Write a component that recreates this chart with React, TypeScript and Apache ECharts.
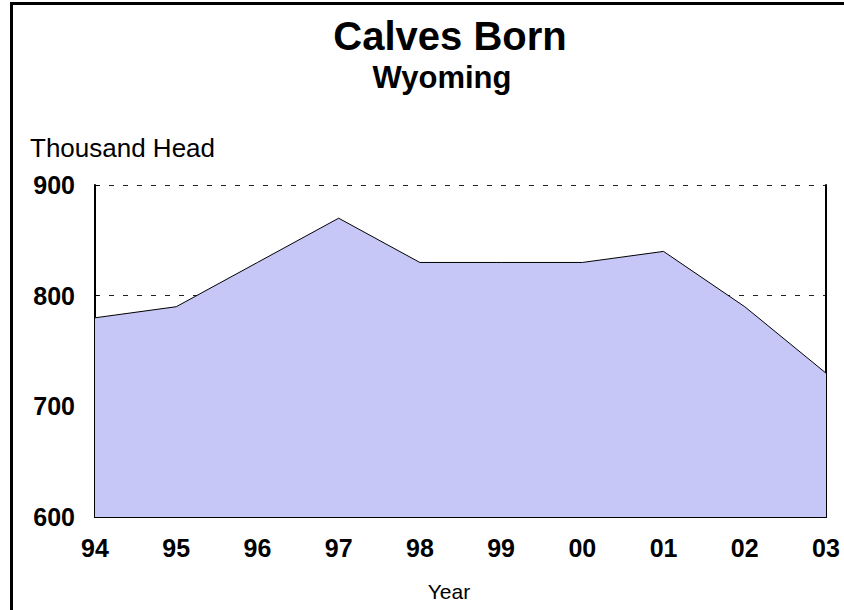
import React, { useEffect, useRef } from "react";
import * as echarts from "echarts";

const years = ["94", "95", "96", "97", "98", "99", "00", "01", "02", "03"];
const calves = [780, 790, 830, 870, 830, 830, 830, 840, 790, 730];
const yTicks = { min: 600, max: 900, interval: 100 };
const titleText = "Calves Born";
const subtitleText = "Wyoming";
const yAxisTitle = "Thousand Head";
const xAxisTitle = "Year";

const FONT = "Arial, 'Liberation Sans', Helvetica, sans-serif";

export default function App() {
  const ref = useRef<HTMLDivElement>(null);
  useEffect(() => {
    document.body.style.margin = "0";
    const chart = echarts.init(ref.current!, null, { renderer: "svg" });
    chart.setOption({
      animation: false,
      backgroundColor: "#ffffff",
      textStyle: { fontFamily: FONT },
      graphic: [
        {
          type: "rect",
          shape: { x: 11.5, y: 3.5, width: 900, height: 700 },
          style: { fill: "none", stroke: "#000", lineWidth: 3 },
          silent: true,
        },
        {
          type: "text",
          style: {
            text: titleText, x: 450, y: 36, align: "center", verticalAlign: "middle",
            fontFamily: FONT, fontSize: 40, fontWeight: "bold", fill: "#000",
          },
        },
        {
          type: "text",
          style: {
            text: subtitleText, x: 442, y: 77, align: "center", verticalAlign: "middle",
            fontFamily: FONT, fontSize: 31, fontWeight: "bold", fill: "#000",
          },
        },
        {
          type: "text",
          style: {
            text: yAxisTitle, x: 30, y: 148, align: "left", verticalAlign: "middle",
            fontFamily: FONT, fontSize: 26, fill: "#000",
          },
        },
        {
          type: "text",
          style: {
            text: xAxisTitle, x: 449, y: 591, align: "center", verticalAlign: "middle",
            fontFamily: FONT, fontSize: 21, fill: "#000",
          },
        },
      ],
      grid: { left: 95, right: 18, top: 185, bottom: 93, containLabel: false },
      xAxis: {
        type: "category",
        data: years,
        boundaryGap: false,
        axisLine: { lineStyle: { color: "#000", width: 2 } },
        axisTick: { show: false },
        axisLabel: { fontFamily: FONT, fontSize: 25, fontWeight: "bold", color: "#000", margin: 18 },
        splitLine: { show: false },
      },
      yAxis: [
        {
          type: "value",
          min: yTicks.min,
          max: yTicks.max,
          interval: yTicks.interval,
          axisLine: { show: true, lineStyle: { color: "#000", width: 2 } },
          axisTick: { show: true, inside: true, length: 4, lineStyle: { color: "#000" } },
          axisLabel: { fontFamily: FONT, fontSize: 25, fontWeight: "bold", color: "#000", margin: 20 },
          splitLine: { show: true, lineStyle: { color: "#222", type: [5, 9], width: 1 } },
        },
        {
          type: "value",
          position: "right",
          min: yTicks.min,
          max: yTicks.max,
          interval: yTicks.interval,
          axisLine: { show: true, lineStyle: { color: "#000", width: 2 } },
          axisTick: { show: false },
          axisLabel: { show: false },
          splitLine: { show: false },
        },
      ],
      series: [
        {
          type: "line",
          data: calves,
          yAxisIndex: 0,
          symbol: "none",
          lineStyle: { color: "#000", width: 1 },
          areaStyle: { color: "#c6c6f7", opacity: 1 },
          z: 1,
        },
      ],
    });
    return () => chart.dispose();
  }, []);
  return <div ref={ref} style={{ width: 844, height: 610 }} />;
}
